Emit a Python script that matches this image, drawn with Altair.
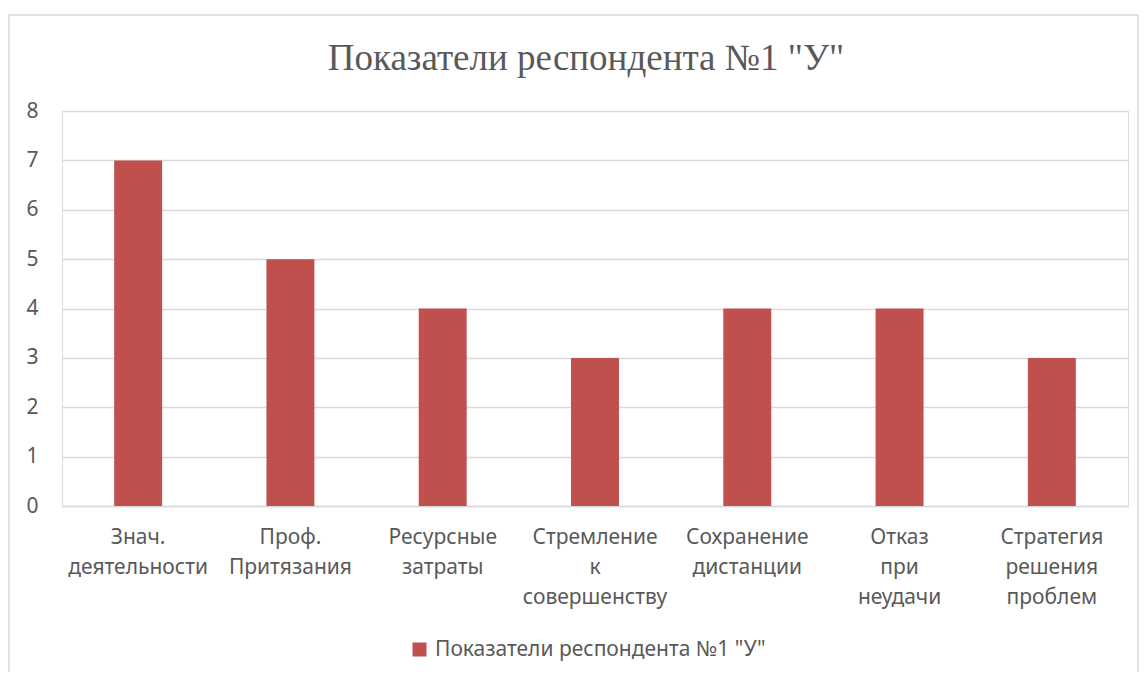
import altair as alt
import pandas as pd

categories = [
    "Знач.\nдеятельности",
    "Проф.\nПритязания",
    "Ресурсные\nзатраты",
    "Стремление\nк\nсовершенству",
    "Сохранение\nдистанции",
    "Отказ\nпри\nнеудачи",
    "Стратегия\nрешения\nпроблем",
]
values = [7, 5, 4, 3, 4, 4, 3]
series_name = 'Показатели респондента №1 "У"'
chart_title = 'Показатели респондента №1 "У"'
y_ticks = [0, 1, 2, 3, 4, 5, 6, 7, 8]

df = pd.DataFrame({"cat": categories, "val": values, "series": [series_name] * len(values)})

W, H = 1066, 395
GRAY = "#595959"
FONT = "Noto Sans"

bars = alt.Chart(df).mark_bar(color="#C0504D").encode(
    x=alt.X("cat:N", sort=None,
            scale=alt.Scale(paddingInner=0.685, paddingOuter=0.3425),
            axis=alt.Axis(title=None, labelAngle=0, ticks=False, domain=True,
                          domainColor="#D9D9D9", domainWidth=1.5,
                          labelExpr="split(datum.label, '\\n')",
                          labelLineHeight=30, labelPadding=20,
                          labelFont=FONT, labelFontSize=21, labelColor=GRAY)),
    y=alt.Y("val:Q", scale=alt.Scale(domain=[0, 8], nice=False),
            axis=alt.Axis(title=None, values=y_ticks, ticks=False, domain=False,
                          gridColor="#D9D9D9", gridWidth=1.5,
                          labelPadding=24, labelFont=FONT, labelFontSize=21,
                          labelColor=GRAY)),
    color=alt.Color("series:N",
                    scale=alt.Scale(range=["#C0504D"]),
                    legend=alt.Legend(title=None, orient="none", legendX=347, legendY=528,
                                      symbolType="square", symbolSize=196,
                                      symbolStrokeWidth=0, labelOffset=5, labelLimit=0,
                                      labelFont=FONT, labelFontSize=21, labelColor=GRAY,
                                      padding=0)),
)

frame = alt.Chart(pd.DataFrame({"k": [0]})).mark_rect(
    fill=None, stroke="#D9D9D9", strokeWidth=1.5
).encode(
    x=alt.value(-53), x2=alt.value(1076),
    y=alt.value(-96), y2=alt.value(620),
)

title = alt.Chart(pd.DataFrame({"t": [chart_title]})).mark_text(
    font="Liberation Serif", fontSize=37, color=GRAY, align="center", baseline="alphabetic"
).encode(
    text="t:N", x=alt.value(524), y=alt.value(-41),
)

chart = alt.layer(frame, bars, title).properties(
    width=W, height=H,
    autosize=alt.AutoSizeParams(type="none"),
    padding={"left": 54, "top": 103, "right": 11, "bottom": 166},
).configure_view(stroke=None).configure(background="white")

chart.save("out.html", embed_options={"renderer": "svg", "actions": False})
